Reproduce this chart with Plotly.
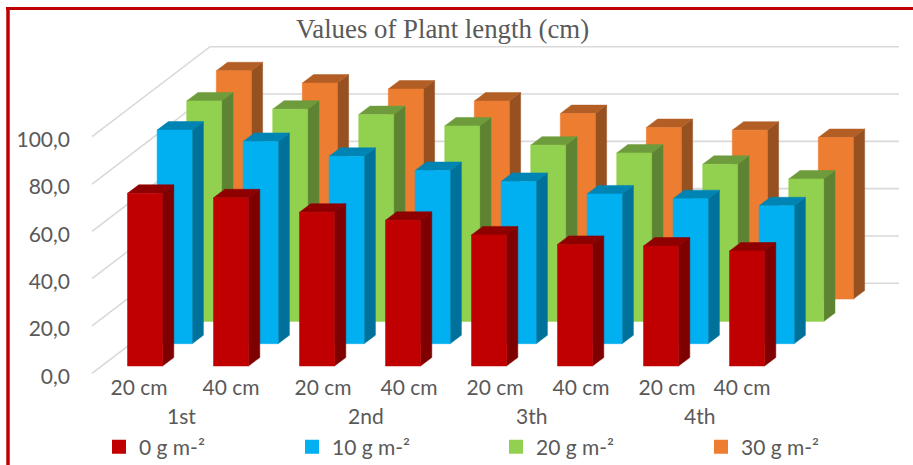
import plotly.graph_objects as go

# ---------- data ----------
sub_labels = ["20 cm", "40 cm"] * 4
group_labels = ["1st", "2nd", "3th", "4th"]
series_names = ["0 g m-²", "10 g m-²", "20 g m-²", "30 g m-²"]
values_0 = [73.0, 71.1, 65.0, 61.6, 55.4, 51.4, 50.7, 48.6]
values_10 = [90.3, 85.5, 79.2, 73.2, 68.6, 63.3, 61.3, 58.3]
values_20 = [93.2, 89.7, 87.4, 82.6, 74.5, 71.2, 66.4, 60.2]
values_30 = [96.5, 91.3, 88.8, 83.7, 78.4, 72.5, 71.4, 68.3]
y_ticks = [0, 20, 40, 60, 80, 100]

# ---------- styling ----------
FACE = ["#C00000", "#00B0F0", "#92D050", "#ED7D31"]
TOP = ["#8F0000", "#0084B4", "#6E9C3C", "#B25E25"]
SIDE = ["#7F0000", "#00719B", "#5E8433", "#975020"]
TEXT = "#595959"
GRID = "#D9D9D9"
FONT = "Lato"

W, H = 913, 465
L_MARGIN = 71
AXIS_Y_PX = 372.5
PX_PER_CAT = 86.0
PX_PER_UNIT = 2.366

# oblique projection, in axis units
half_w = 17.5 / PX_PER_CAT
bar_dx, bar_dv = 11.3 / PX_PER_CAT, 8.5 / PX_PER_UNIT
row_dx, row_dv = 29.6 / PX_PER_CAT, 22.3 / PX_PER_UNIT
base_v = 7.3 / PX_PER_UNIT
wall_left, wall_corner, wall_right = -0.616, 0.756, 8.767
wall_dv = 90 / PX_PER_UNIT

fig = go.Figure()

# gridlines: front-left diagonal then back wall
for t in y_ticks:
    fig.add_trace(go.Scatter(
        x=[wall_left, wall_corner, wall_right],
        y=[t, t + wall_dv, t + wall_dv],
        mode="lines", line=dict(color=GRID, width=1.6),
        showlegend=False, hoverinfo="skip"))


def poly(xs, ys, color):
    fig.add_trace(go.Scatter(
        x=xs + xs[:1], y=ys + ys[:1], mode="lines", fill="toself",
        fillcolor=color, line=dict(color=color, width=0.5),
        showlegend=False, hoverinfo="skip"))


all_series = [values_0, values_10, values_20, values_30]
for s in range(3, -1, -1):
    ox = s * row_dx
    b = base_v + s * row_dv
    for i, v in enumerate(all_series[s]):
        x0, x1 = i + ox - half_w, i + ox + half_w
        t = b + v
        poly([x1, x1 + bar_dx, x1 + bar_dx, x1],
             [b, b + bar_dv, t + bar_dv, t], SIDE[s])
        poly([x0, x1, x1 + bar_dx, x0 + bar_dx],
             [t, t, t + bar_dv, t + bar_dv], TOP[s])
        poly([x0, x1, x1, x0], [b, b, t, t], FACE[s])

# one legend per series so each entry can sit where the reference has it
legend_keys = ["legend", "legend2", "legend3", "legend4"]
for s, name in enumerate(series_names):
    fig.add_trace(go.Scatter(
        x=[None], y=[None], mode="markers", name=name, legend=legend_keys[s],
        marker=dict(symbol="square", size=14, color=FACE[s]),
        hoverinfo="skip"))

x_lo = (L_MARGIN - 145) / PX_PER_CAT
x_hi = (W - 145) / PX_PER_CAT
y_hi = 373.3 / PX_PER_UNIT
y_lo = (373.3 - H) / PX_PER_UNIT

tick_px = [139, 231, 323, 409, 495, 581, 667, 742]
tick_u = [(p - 145) / PX_PER_CAT for p in tick_px]
group_px = [181, 366, 531, 699]
legend_px = [99, 292, 496, 701]


def px_x(p):
    return (p - L_MARGIN) / (W - L_MARGIN)


def px_y(p):
    return 1 - p / H


annotations = [
    dict(text=g, x=(p - 145) / PX_PER_CAT, xref="x",
         y=px_y(415), yref="paper",
         yanchor="middle", xanchor="center", showarrow=False,
         font=dict(family=FONT, size=21, color=TEXT))
    for g, p in zip(group_labels, group_px)
]

red = "#C00000"
shapes = [
    dict(type="line", xref="paper", yref="paper",
         x0=px_x(8), x1=px_x(8), y0=px_y(7), y1=0,
         line=dict(color=red, width=3.5)),
    dict(type="line", xref="paper", yref="paper",
         x0=px_x(6), x1=1, y0=px_y(8.6), y1=px_y(8.6),
         line=dict(color=red, width=3)),
]

fig.update_layout(
    width=W, height=H,
    margin=dict(l=L_MARGIN, r=0, t=0, b=0, pad=0, autoexpand=False),
    paper_bgcolor="white", plot_bgcolor="rgba(0,0,0,0)",
    separators=",.",
    title=dict(text="Values of Plant length (cm)", xref="container", yref="container",
               x=442.5 / W, y=1 - 29 / H, xanchor="center", yanchor="middle",
               font=dict(family="Liberation Serif", size=26.8, color=TEXT)),
    xaxis=dict(range=[x_lo, x_hi], tickmode="array", tickvals=tick_u, ticktext=sub_labels,
               showgrid=False, zeroline=False, showline=False, ticks="",
               anchor="free", position=px_y(AXIS_Y_PX),
               tickangle=0, tickfont=dict(family=FONT, size=21, color=TEXT)),
    yaxis=dict(range=[y_lo, y_hi], domain=[0, 1], tickmode="array", tickvals=y_ticks,
               tickformat=".1f", ticklabelshift=3,
               showgrid=False, zeroline=False, showline=False, ticks="",
               tickfont=dict(family=FONT, size=21, color=TEXT)),
    annotations=annotations, shapes=shapes,
    showlegend=True, hovermode=False,
)

for key, lx in zip(legend_keys, legend_px):
    fig.update_layout({key: dict(
        orientation="h", x=px_x(lx), xanchor="left", y=px_y(447), yanchor="middle",
        itemwidth=30, font=dict(family=FONT, size=21, color=TEXT),
        bgcolor="rgba(0,0,0,0)")})

fig.write_html("out.html", config=dict(displayModeBar=False),
               post_script="document.body.style.margin='0';document.body.style.overflow='hidden';")
